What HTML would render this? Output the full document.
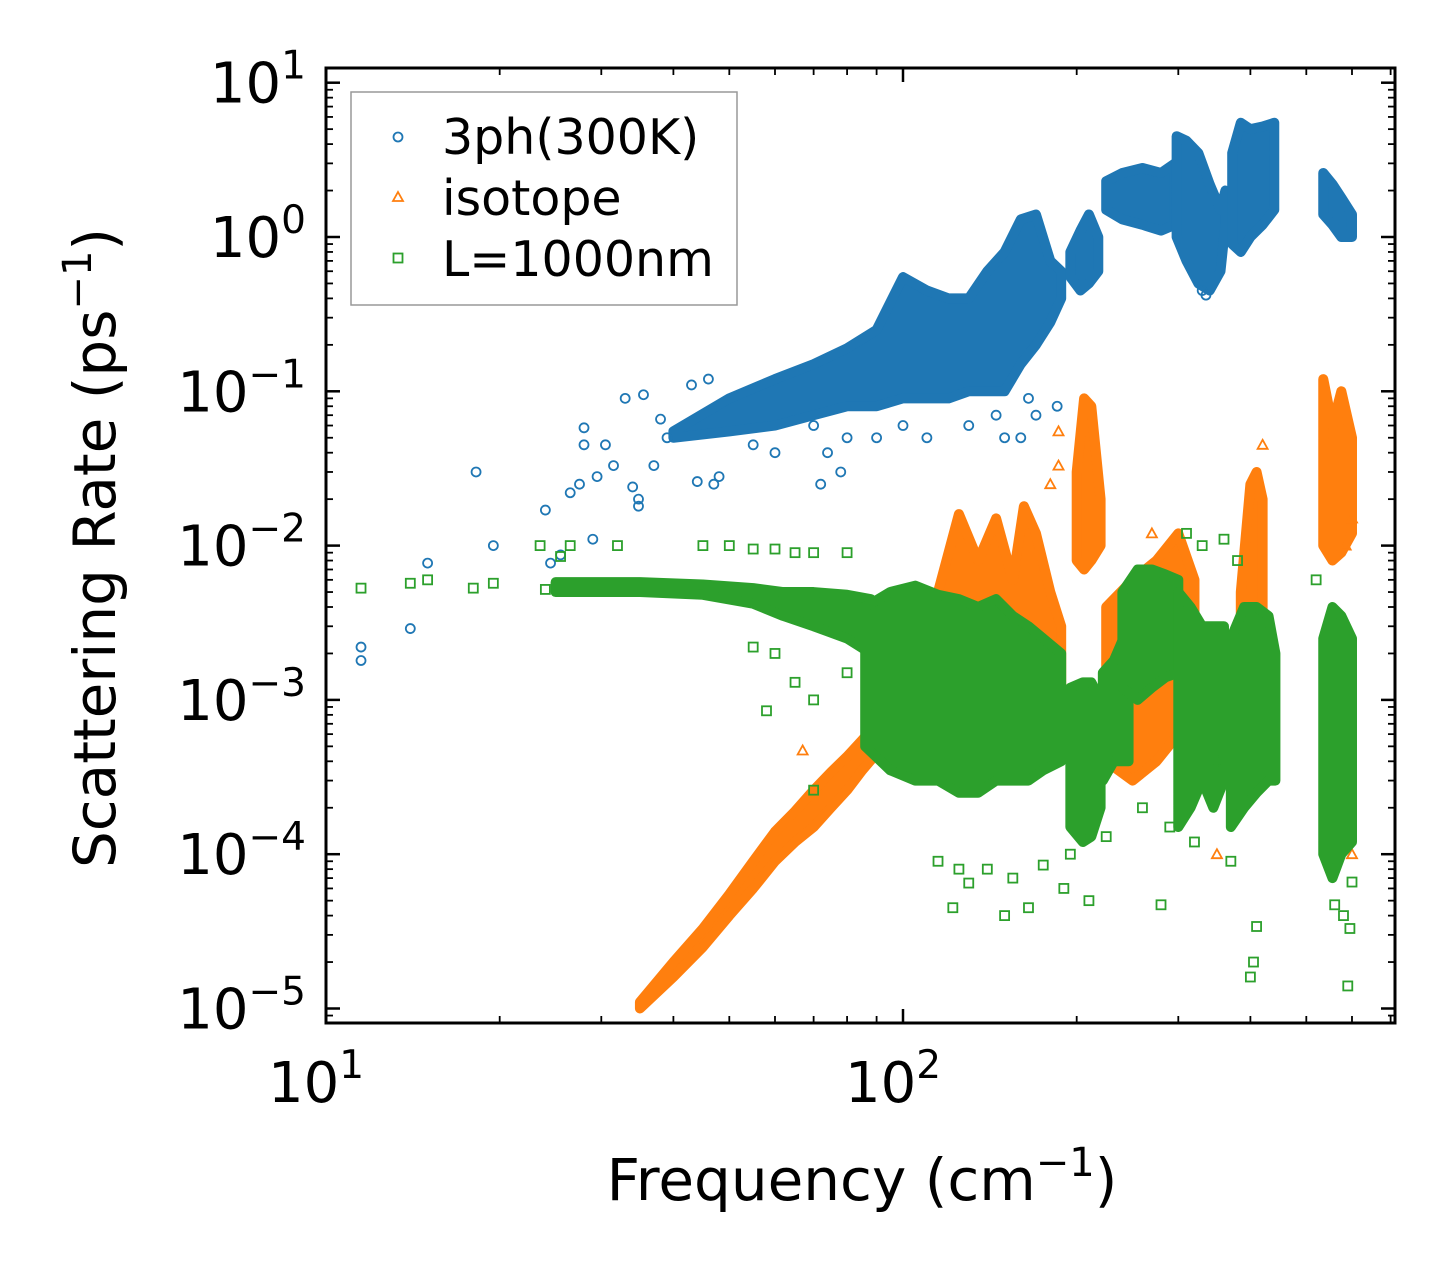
<!DOCTYPE html>
<html><head><meta charset="utf-8"><style>
html,body{margin:0;padding:0;background:#fff;}
svg{display:block;font-family:"DejaVu Sans","Liberation Sans",sans-serif;}
</style></head><body>
<svg id="chart" width="1455" height="1273" viewBox="0 0 1455 1273" xmlns="http://www.w3.org/2000/svg">
<rect width="1455" height="1273" fill="#fff"/>
<g id="marks"></g>
<g id="axes"></g>
<text x="862" y="1200" font-size="58" text-anchor="middle">Frequency (cm<tspan dy="-24" font-size="40">−1</tspan><tspan dy="24">)</tspan></text>
<text transform="translate(115,548) rotate(-90)" font-size="58" text-anchor="middle">Scattering Rate (ps<tspan dy="-24" font-size="40">−1</tspan><tspan dy="24">)</tspan></text>
<g>
<rect x="351" y="92" width="386" height="213" fill="#fff" fill-opacity="0.8" stroke="#999" stroke-width="1.5"/>
<g><circle cx="398" cy="137" r="4.5" fill="none" stroke="#1f77b4" stroke-width="1.8"/><text x="442" y="154" font-size="49">3ph(300K)</text></g>
<g><polygon points="398,192 403,201 393,201" fill="none" stroke="#ff7f0e" stroke-width="1.8"/><text x="442" y="215" font-size="49">isotope</text></g>
<g><rect x="393.5" y="253.5" width="9" height="9" fill="none" stroke="#2ca02c" stroke-width="1.8"/><text x="442" y="276" font-size="49">L=1000nm</text></g>
</g>
</svg>
<script>
// ---- data (frequency cm^-1, rate ps^-1) ----
const xTickValues = [10, 100];
const yTickExps = [1, 0, -1, -2, -3, -4, -5];
// blue: 3ph dense clusters (frequency, lower, upper)
const blueEnvF = [[40,50,60,70,80,90,100,110,120,130,140,150,160,170,180,188],[195,203,210,218],[225,240,260,280,296],[298,310,325,340,355,362],[372,385,400,420,440],[535,555,575,600]];
const blueEnvLo = [[0.05,0.055,0.06,0.07,0.08,0.08,0.09,0.09,0.09,0.1,0.1,0.1,0.15,0.2,0.28,0.4],[0.55,0.45,0.5,0.6],[1.5,1.3,1.2,1.1,1.2],[1.0,0.7,0.5,0.45,0.6,1.2],[0.9,0.8,1.0,1.2,1.5],[1.4,1.2,1.0,1.0]];
const blueEnvHi = [[0.055,0.09,0.12,0.15,0.19,0.25,0.55,0.45,0.4,0.4,0.6,0.8,1.3,1.4,0.7,0.6],[0.8,1.1,1.4,1.0],[2.3,2.6,2.8,2.6,3.0],[4.5,4.2,3.5,2.2,1.5,2.0],[3.5,5.5,5.0,5.2,5.5],[2.6,2.2,1.8,1.4]];
const blueF = [11.5,11.5,14,15,18.2,19.5,24,24.5,25.5,26.5,27.5,28,28,29,29.5,30.5,31.5,33,34,34.8,34.8,35.5,37,38,39,43,44,46,47,48,55,60,70,72,74,78,80,90,100,110,130,150,160,170,185,165,145,330,335];
const blueV = [0.0022,0.0018,0.0029,0.0077,0.03,0.01,0.017,0.0077,0.0087,0.022,0.025,0.058,0.045,0.011,0.028,0.045,0.033,0.09,0.024,0.018,0.02,0.095,0.033,0.066,0.05,0.11,0.026,0.12,0.025,0.028,0.045,0.04,0.06,0.025,0.04,0.03,0.05,0.05,0.06,0.05,0.06,0.05,0.05,0.07,0.08,0.09,0.07,0.45,0.42];
// orange: isotope
const orangeEnvF = [[35,40,45,50,55,60,65,70,75,80,85,90,97],[97,105,115,125,135,145,155,162,170,180,188],[200,206,212,220],[225,250,275,300,320],[385,400,410,420],[535,555,575,600]];
const orangeEnvLo = [[1e-5,1.6e-5,2.5e-5,4e-5,6e-5,9e-5,1.2e-4,1.5e-4,2e-4,2.6e-4,3.5e-4,4.5e-4,6e-4],[8e-4,1e-3,1e-3,1e-3,1e-3,1.2e-3,1.5e-3,1.5e-3,1.3e-3,1e-3,1e-3],[0.008,0.007,0.008,0.01],[4e-4,3e-4,4e-4,6e-4,8e-4],[4e-4,6e-4,8e-4,1e-3],[0.01,0.008,0.009,0.012]];
const orangeEnvHi = [[1.1e-5,2e-5,3.3e-5,5.5e-5,9e-5,1.4e-4,1.9e-4,2.6e-4,3.4e-4,4.3e-4,5.5e-4,7e-4,1e-3],[1.5e-3,3e-3,5e-3,1.6e-2,8e-3,1.5e-2,6e-3,1.8e-2,1.2e-2,5e-3,3e-3],[0.03,0.09,0.08,0.02],[4e-3,6e-3,8e-3,1.2e-2,6e-3],[5e-3,0.025,0.03,0.02],[0.12,0.06,0.1,0.05]];
const orangeF = [67,186,186,180,270,420,585,600,380,350,600,150,230,260];
const orangeV = [4.7e-4,0.055,0.033,0.025,0.012,0.045,0.01,0.015,3e-4,1e-4,1e-4,6e-4,2e-3,1.5e-3];
// green: L=1000nm
const greenEnvF = [[25,35,45,55,62,70,80,88],[86,95,105,115,125,135,145,155,165,175,188],[195,205,212,220],[222,232,246],[240,255,270,285,300],[300,315,330,345,360],[370,390,410,430,442],[535,555,575,600]];
const greenEnvLo = [[5e-3,5e-3,4.8e-3,4.2e-3,3.5e-3,3e-3,2.5e-3,2e-3],[5e-4,3.5e-4,3e-4,3e-4,2.5e-4,2.5e-4,3e-4,3e-4,3e-4,3.5e-4,4e-4],[1.5e-4,1.2e-4,1.3e-4,2e-4],[3e-4,4e-4,4e-4],[1.2e-3,1e-3,1.2e-3,1.4e-3,1.5e-3],[1.5e-4,2e-4,3e-4,2e-4,3e-4],[1.5e-4,2e-4,2.5e-4,3e-4,3e-4],[1e-4,7e-5,1e-4,1.2e-4]];
const greenEnvHi = [[5.8e-3,5.8e-3,5.6e-3,5.3e-3,5e-3,5e-3,4.8e-3,4.5e-3],[4e-3,5e-3,5.5e-3,4.8e-3,4.5e-3,4e-3,4.5e-3,3.5e-3,3e-3,2.5e-3,2e-3],[1.2e-3,1.3e-3,1.3e-3,1e-3],[1.5e-3,1.8e-3,3e-3],[5e-3,7e-3,7e-3,6.5e-3,6e-3],[5e-3,4e-3,3e-3,3e-3,3e-3],[2.5e-3,4e-3,4e-3,3.5e-3,2e-3],[2.5e-3,4e-3,3.5e-3,2.5e-3]];
const greenF = [11.5,14,15,18,19.5,23.5,24,25.5,26.5,32,45,50,55,60,65,70,80,55,60,65,70,80,90,58,70,115,122,125,130,140,150,155,165,175,190,195,210,225,280,320,370,400,405,410,560,580,590,595,600,310,330,360,380,520,260,290,350];
const greenV = [5.3e-3,5.7e-3,6e-3,5.3e-3,5.7e-3,1e-2,5.2e-3,8.5e-3,1e-2,1e-2,1e-2,1e-2,9.5e-3,9.5e-3,9e-3,9e-3,9e-3,2.2e-3,2e-3,1.3e-3,1e-3,1.5e-3,8e-4,8.5e-4,2.6e-4,9e-5,4.5e-5,8e-5,6.5e-5,8e-5,4e-5,7e-5,4.5e-5,8.5e-5,6e-5,1e-4,5e-5,1.3e-4,4.7e-5,1.2e-4,9e-5,1.6e-5,2e-5,3.4e-5,4.7e-5,4e-5,1.4e-5,3.3e-5,6.6e-5,1.2e-2,1e-2,1.1e-2,8e-3,6e-3,2e-4,1.5e-4,4e-4];

// ---- axis functions ----
const X0=326, X1=1395, Y0=68, Y1=1023, DX=577, DY=154.3, YREF=237;
function X(f){return X0+DX*(Math.log10(f)-1);}
function Y(v){return YREF-DY*Math.log10(v);}
const NS="http://www.w3.org/2000/svg";
const marks=document.getElementById('marks');
const axes=document.getElementById('axes');
function mk(tag,attrs,parent){const e=document.createElementNS(NS,tag);for(const k in attrs)e.setAttribute(k,attrs[k]);parent.appendChild(e);return e;}
const clip=mk('clipPath',{id:'pc'},marks);mk('rect',{x:X0,y:Y0,width:X1-X0,height:Y1-Y0},clip);
marks.setAttribute('clip-path','url(#pc)');

function drawSeries(envF,envLo,envHi,F,V,color,shape,name){
  const g=mk('g',{},marks);
  
  
  envF.forEach((fs,i)=>{
    const top=fs.map((f,j)=>X(f)+','+Y(envHi[i][j]));
    const bot=fs.map((f,j)=>X(f)+','+Y(envLo[i][j])).reverse();
    const p=mk('polygon',{points:top.concat(bot).join(' '),fill:color,stroke:color,'stroke-width':10,'stroke-linejoin':'round'},g);
    
    
  });
  F.forEach((f,i)=>{
    const x=X(f),y=Y(V[i]);let m;
    if(shape==='c') m=mk('circle',{cx:x,cy:y,r:4.5,fill:'none',stroke:color,'stroke-width':1.8},g);
    else if(shape==='t') m=mk('polygon',{points:`${x},${y-5} ${x+5},${y+4} ${x-5},${y+4}`,fill:'none',stroke:color,'stroke-width':1.8},g);
    else m=mk('rect',{x:x-4.5,y:y-4.5,width:9,height:9,fill:'none',stroke:color,'stroke-width':1.8},g);
    
    
  });
}
drawSeries(blueEnvF,blueEnvLo,blueEnvHi,blueF,blueV,'#1f77b4','c','3ph');
drawSeries(orangeEnvF,orangeEnvLo,orangeEnvHi,orangeF,orangeV,'#ff7f0e','t','isotope');
drawSeries(greenEnvF,greenEnvLo,greenEnvHi,greenF,greenV,'#2ca02c','s','boundary');

// frame
const fr=mk('rect',{x:X0,y:Y0,width:X1-X0,height:Y1-Y0,fill:'none',stroke:'#000','stroke-width':3},axes);


function tick(x1,y1,x2,y2,w){mk('line',{x1,y1,x2,y2,stroke:'#000','stroke-width':w},axes);}
// x ticks
for(let d=1;d<=2;d++){for(let k=1;k<=9;k++){const f=k*Math.pow(10,d);const x=X(f);if(x>X1)break;
  const L=k===1?14:7,w=k===1?2.5:1.8;tick(x,Y1,x,Y1-L,w);tick(x,Y0,x,Y0+L,w);}}
xTickValues.forEach(v=>{const t=mk('text',{x:X(v)-10,y:1102,'font-size':56,'text-anchor':'middle'},axes);
  
  
  t.innerHTML='10<tspan dy="-24" font-size="39">'+Math.log10(v)+'</tspan>';});
// y ticks
for(let e=-6;e<=1;e++){for(let k=1;k<=9;k++){const y=Y(k*Math.pow(10,e));if(y<Y0||y>Y1)continue;
  const L=k===1?14:7,w=k===1?2.5:1.8;tick(X0,y,X0+L,y,w);tick(X1,y,X1-L,y,w);}}
yTickExps.forEach(e=>{const t=mk('text',{x:306,y:Y(Math.pow(10,e))+20,'font-size':56,'text-anchor':'end'},axes);
  
  
  const lbl=e<0?'−'+(-e):String(e);
  t.innerHTML='10<tspan dy="-24" font-size="39">'+lbl+'</tspan>';});
</script>
</body></html>
